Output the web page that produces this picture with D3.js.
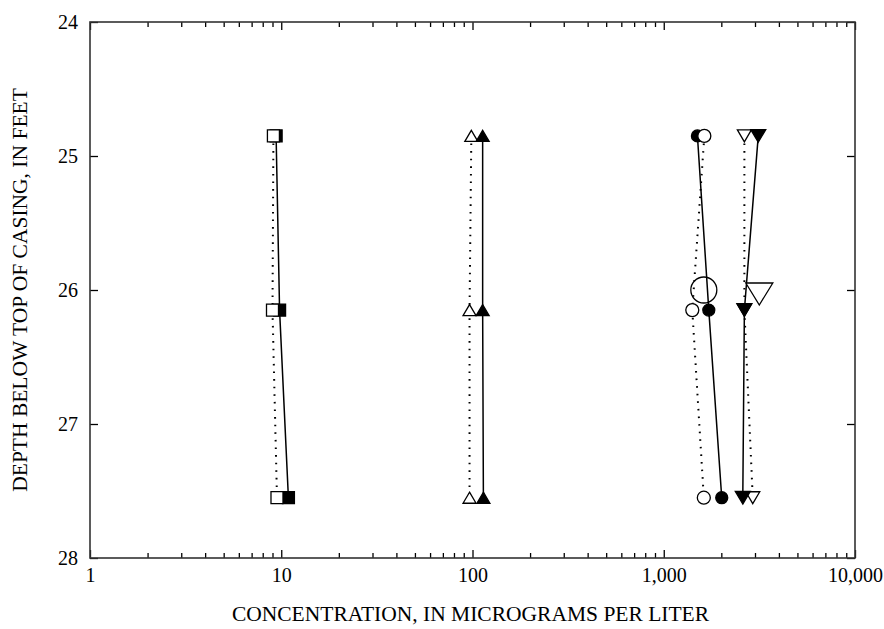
<!DOCTYPE html>
<html>
<head>
<meta charset="utf-8">
<script src="https://cdn.jsdelivr.net/npm/d3@7/dist/d3.min.js"></script>
<style>
  body { margin: 0; background: #fff; }
  svg text { font-family: "Liberation Serif", "Times New Roman", serif; fill: #000; }
</style>
</head>
<body>
<svg width="884" height="629"></svg>
<script>
/* depth of the three sampling points, in feet */
var depths = [24.85, 26.15, 27.55];

/* concentrations per series (open = dotted line, filled = solid line) */
var squareOpen    = [9.1, 9.0, 9.5];
var squareFilled  = [9.4, 9.8, 10.9];
var triUpOpen     = [98.6, 96.5, 96.5];
var triUpFilled   = [113, 113, 114];
var circleOpen    = [1630, 1410, 1620];
var circleFilled  = [1500, 1720, 2010];
var triDownOpen   = [2640, 2640, 2920];
var triDownFilled = [3120, 2640, 2590];

/* the two larger single samples at 26 feet */
var bigDepth = 26.0;
var bigCircle = 1620;
var bigTriDown = 3160;

var xTickValues = [1, 10, 100, 1000, 10000];
var xTickLabels = ["1", "10", "100", "1,000", "10,000"];
var yTickValues = [24, 25, 26, 27, 28];

var svg = d3.select("svg");
var margin = {top: 22, right: 29, bottom: 71, left: 90};
var width = +svg.attr("width") - margin.left - margin.right;
var height = +svg.attr("height") - margin.top - margin.bottom;
var group = svg.append("g").attr("transform", "translate(" + margin.left + "," + margin.top + ")");

var x = d3.scaleLog().domain([1, 10000]).range([0, width]);
var y = d3.scaleLinear().domain([24, 28]).range([0, height]);

/* minor ticks 2..9 in every decade */
var minorTicks = [];
for (var d = 1; d < 10000; d *= 10) {
	for (var k = 2; k < 10; k++) minorTicks.push(d * k);
}

function labelOf(v) { return xTickLabels[xTickValues.indexOf(v)]; }

/* bottom axis */
var bottomAxis = group.append("g").attr("transform", "translate(0," + height + ")");
bottomAxis.call(d3.axisBottom(x).tickValues(xTickValues).tickSize(-8).tickSizeOuter(0).tickPadding(10).tickFormat(labelOf));
bottomAxis.append("g").call(d3.axisBottom(x).tickValues(minorTicks).tickSize(-5).tickSizeOuter(0).tickFormat(""));

/* top axis, ticks only */
var topAxis = group.append("g");
topAxis.call(d3.axisTop(x).tickValues(xTickValues).tickSize(-8).tickSizeOuter(0).tickFormat(""));
topAxis.append("g").call(d3.axisTop(x).tickValues(minorTicks).tickSize(-5).tickSizeOuter(0).tickFormat(""));

/* left and right axes */
group.append("g")
	.call(d3.axisLeft(y).tickValues(yTickValues).tickSize(-8).tickSizeOuter(0).tickPadding(12).tickFormat(d3.format("d")));
group.append("g")
	.attr("transform", "translate(" + width + ",0)")
	.call(d3.axisRight(y).tickValues(yTickValues).tickSize(-8).tickSizeOuter(0).tickFormat(""));

group.selectAll(".domain").remove();
group.selectAll(".tick line").attr("stroke", "#000").attr("stroke-width", 1.3);
group.selectAll(".tick text").attr("font-size", 20).attr("font-family", "Liberation Serif, serif");

/* frame */
group.append("rect")
	.attr("width", width)
	.attr("height", height)
	.attr("fill", "none")
	.attr("stroke", "#333")
	.attr("stroke-width", 1.6);

/* axis titles */
svg.append("text")
	.attr("x", margin.left + width / 2 - 2)
	.attr("y", 621)
	.attr("text-anchor", "middle")
	.attr("font-size", 21.5)
	.text("CONCENTRATION, IN MICROGRAMS PER LITER");

svg.append("text")
	.attr("transform", "translate(27," + (margin.top + height / 2) + ") rotate(-90)")
	.attr("text-anchor", "middle")
	.attr("font-size", 21.5)
	.text("DEPTH BELOW TOP OF CASING, IN FEET");

/* marker shapes, centred on their bounding box */
function shape(kind, s) {
	var h = s / 2;
	if (kind === "square") return "M" + (-h) + "," + (-h) + "H" + h + "V" + h + "H" + (-h) + "Z";
	if (kind === "up") return "M0," + (-h * 0.85) + "L" + h + "," + (h * 0.85) + "L" + (-h) + "," + (h * 0.85) + "Z";
	if (kind === "down") return "M0," + (h * 0.85) + "L" + h + "," + (-h * 0.85) + "L" + (-h) + "," + (-h * 0.85) + "Z";
	return d3.arc()({innerRadius: 0, outerRadius: h, startAngle: 0, endAngle: 2 * Math.PI});
}

var series = [
	{values: squareFilled, kind: "square", filled: true,  size: 12},
	{values: squareOpen,   kind: "square", filled: false, size: 12},
	{values: triUpOpen,    kind: "up",     filled: false, size: 13},
	{values: triUpFilled,  kind: "up",     filled: true,  size: 13},
	{values: circleFilled, kind: "circle", filled: true,  size: 12},
	{values: circleOpen,   kind: "circle", filled: false, size: 13},
	{values: triDownOpen,  kind: "down",   filled: false, size: 14},
	{values: triDownFilled,kind: "down",   filled: true,  size: 15}
];

var line = d3.line()
	.x(function(d) { return x(d.v); })
	.y(function(d) { return y(d.depth); });

function points(s) {
	return s.values.map(function(v, i) { return {v: v, depth: depths[i]}; });
}

/* lines: solid for filled symbols, dotted for open ones */
series.forEach(function(s) {
	group.append("path")
		.datum(points(s))
		.attr("fill", "none")
		.attr("stroke", "#000")
		.attr("stroke-width", s.filled ? 1.5 : 2)
		.attr("stroke-dasharray", s.filled ? null : "1.6,6")
		.attr("d", line);
});

/* markers */
series.forEach(function(s) {
	group.append("g").selectAll("path")
		.data(points(s))
		.enter().append("path")
		.attr("transform", function(d) { return "translate(" + x(d.v) + "," + y(d.depth) + ")"; })
		.attr("d", shape(s.kind, s.size))
		.attr("fill", s.filled ? "#000" : "#fff")
		.attr("stroke", "#000")
		.attr("stroke-width", 1.3);
});

/* large single samples */
group.append("path")
	.attr("transform", "translate(" + x(bigCircle) + "," + y(bigDepth) + ")")
	.attr("d", shape("circle", 26))
	.attr("fill", "none")
	.attr("stroke", "#000")
	.attr("stroke-width", 1.3);

group.append("path")
	.attr("transform", "translate(" + x(bigTriDown) + "," + (y(bigDepth) + 4) + ")")
	.attr("d", "M0,11L13.5,-11L-13.5,-11Z")
	.attr("fill", "#fff")
	.attr("stroke", "#000")
	.attr("stroke-width", 1.3);
</script>
</body>
</html>
